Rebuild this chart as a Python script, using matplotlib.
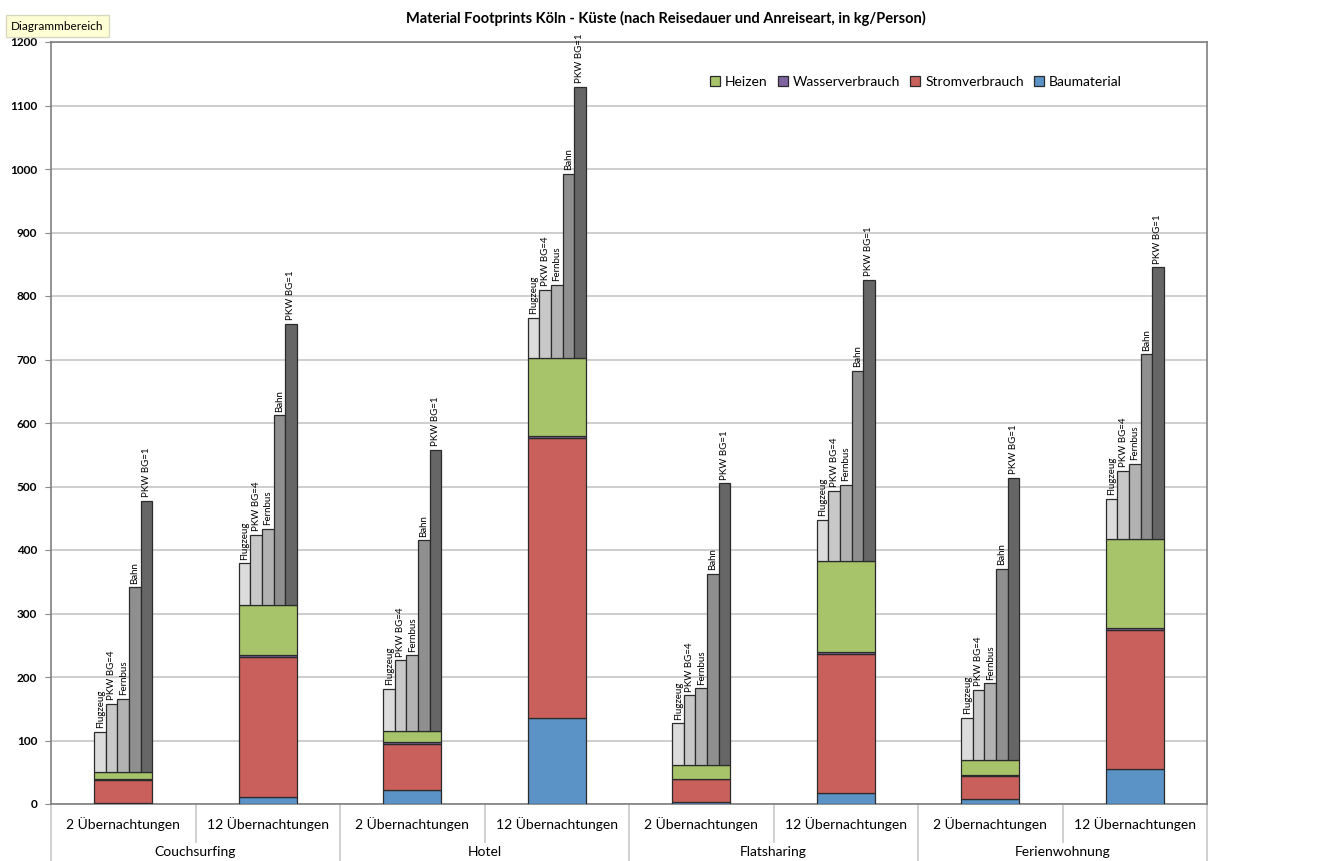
import numpy as np
import matplotlib
matplotlib.use('Agg')
import matplotlib.pyplot as plt
import matplotlib.transforms as mtransforms
from matplotlib.patches import Patch

plt.rcParams['font.family'] = ['Lato', 'DejaVu Sans']

# categories
groups = ['Couchsurfing', 'Hotel', 'Flatsharing', 'Ferienwohnung']
stays = ['2 Übernachtungen', '12 Übernachtungen']

# accommodation footprint (kg/Person), one value per bar, stacked bottom -> top
baumaterial = [2, 11, 22, 135, 3, 18, 8, 55]
stromverbrauch = [36, 221, 73, 442, 36, 219, 36, 219]
wasserverbrauch = [1, 3, 2, 3, 1, 3, 2, 3]
heizen = [12, 79, 18, 122, 22, 143, 24, 141]

# travel footprint per mode, added on top of the accommodation stack
modes = ['Flugzeug', 'PKW BG=4', 'Fernbus', 'Bahn', 'PKW BG=1']
flugzeug = [62, 65, 66, 63, 65, 65, 65, 63]
pkw_bg4 = [106, 110, 111, 108, 109, 110, 110, 107]
fernbus = [115, 119, 119, 116, 120, 120, 120, 117]
bahn = [290, 298, 300, 290, 300, 299, 300, 290]
pkw_bg1 = [426, 442, 442, 427, 443, 442, 443, 427]

stack_colors = {'Baumaterial': '#5B93C6', 'Stromverbrauch': '#C9605C',
                'Wasserverbrauch': '#8064A2', 'Heizen': '#A8C46A'}
mode_colors = ['#DCDCDC', '#C8C8C8', '#B2B2B2', '#8F8F8F', '#666666']

fig = plt.figure(figsize=(13.21, 8.61), dpi=100)
ax = fig.add_axes([51 / 1321, 57 / 861, 1156 / 1321, 762 / 861])

n = len(baumaterial)
x = np.arange(n)
width = 0.4
edge = '#2b2b2b'

bottom = np.zeros(n)
for name, vals in [('Baumaterial', baumaterial), ('Stromverbrauch', stromverbrauch),
                   ('Wasserverbrauch', wasserverbrauch), ('Heizen', heizen)]:
    ax.bar(x, vals, width, bottom=bottom, color=stack_colors[name],
           edgecolor=edge, linewidth=0.9, zorder=3)
    bottom = bottom + np.array(vals)

# transport bars side by side on top of the stack
sub_w = width / len(modes)
for k, (mode, vals) in enumerate(zip(modes, [flugzeug, pkw_bg4, fernbus, bahn, pkw_bg1])):
    xs = x - width / 2 + sub_w * (k + 0.5)
    ax.bar(xs, vals, sub_w, bottom=bottom, color=mode_colors[k],
           edgecolor=edge, linewidth=0.9, zorder=3)
    for xi, top in zip(xs, bottom + np.array(vals)):
        ax.text(xi, top + 6, mode, rotation=90, ha='center', va='bottom',
                fontsize=7, clip_on=False, zorder=4)

ax.set_xlim(-0.5, n - 0.5)
ax.set_ylim(0, 1200)
ax.set_yticks(np.arange(0, 1201, 100))
ax.tick_params(axis='y', length=4, color='#888888', labelsize=8.5, pad=6)
for lbl in ax.get_yticklabels():
    lbl.set_fontweight('bold')
ax.set_xticks([])
ax.yaxis.grid(True, color='#CACACA', linewidth=1.3, zorder=0)
for s in ax.spines.values():
    s.set_color('#7F7F7F')
    s.set_linewidth(1.2)

# two-level category axis
trans = mtransforms.blended_transform_factory(ax.transData, ax.transAxes)
for i in range(n):
    ax.text(x[i], -0.026, stays[i % 2], transform=trans, ha='center', va='center',
            fontsize=10)
for g, name in enumerate(groups):
    ax.text(2 * g + 0.5, -0.063, name, transform=trans, ha='center', va='center',
            fontsize=10)
for b in np.arange(-0.5, n, 1.0):
    if int(b + 0.5) % 2 == 0:
        ax.plot([b, b], [0, -0.08], transform=trans, color='#C8C8C8',
                linewidth=1.2, clip_on=False)
    else:
        ax.plot([b, b], [0, -0.05], transform=trans, color='#C8C8C8',
                linewidth=1.2, clip_on=False)

handles = [Patch(facecolor=stack_colors[k], edgecolor=edge, linewidth=0.9)
           for k in ['Heizen', 'Wasserverbrauch', 'Stromverbrauch', 'Baumaterial']]
ax.legend(handles, ['Heizen', 'Wasserverbrauch', 'Stromverbrauch', 'Baumaterial'],
          loc='upper right', bbox_to_anchor=(0.937, 0.972), ncol=4, frameon=False,
          fontsize=10, handlelength=0.75, handleheight=0.75, handletextpad=0.35,
          columnspacing=0.7)

fig.text(666 / 1321, 1 - 18 / 861,
         'Material Footprints Köln - Küste (nach Reisedauer und Anreiseart, in kg/Person)',
         ha='center', va='center', fontsize=10.5, fontweight='bold')
fig.text(11 / 1321, 1 - 26 / 861, 'Diagrammbereich', ha='left', va='center', fontsize=8.5,
         bbox=dict(boxstyle='square,pad=0.45', facecolor='#FFFFD6', edgecolor='#D8D8C0'))

fig.savefig('out.png', dpi=100)
